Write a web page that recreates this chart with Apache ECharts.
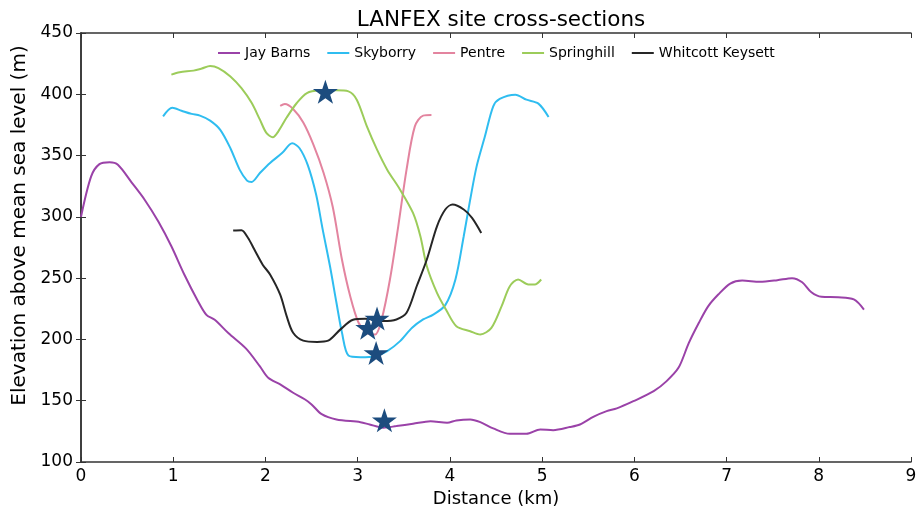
<!DOCTYPE html>
<html>
<head>
<meta charset="utf-8">
<script src="https://cdn.jsdelivr.net/npm/echarts@6/dist/echarts.min.js"></script>
<style>html,body{margin:0;padding:0;background:#fff}#c{width:923px;height:513px}</style>
</head>
<body>
<div id="c"></div>
<script>
var seriesNames = ["Jay Barns", "Skyborry", "Pentre", "Springhill", "Whitcott Keysett"];
var xTicks = [0,1,2,3,4,5,6,7,8,9];
var yTicks = [100,150,200,250,300,350,400,450];

var jayX = [0, 0.11, 0.20, 0.31, 0.40, 0.55, 0.69, 0.84, 0.98, 1.12, 1.27, 1.36, 1.45, 1.60, 1.79, 1.94, 2.03, 2.16, 2.30, 2.43, 2.50, 2.61, 2.77, 3.03, 3.13, 3.28, 3.42, 3.60, 3.79, 3.97, 4.07, 4.22, 4.33, 4.47, 4.65, 4.83, 4.98, 5.12, 5.30, 5.41, 5.56, 5.70, 5.81, 5.99, 6.21, 6.35, 6.48, 6.59, 6.70, 6.80, 6.91, 7.04, 7.17, 7.36, 7.55, 7.71, 7.82, 7.92, 8.03, 8.21, 8.38, 8.49];
var jayY = [300, 333, 343, 344.5, 342.5, 328, 314, 296, 276, 253, 231, 220, 216, 205, 192.5, 178, 168.7, 163.3, 156.5, 151, 147, 139, 134.7, 132.5, 130.6, 128, 129.3, 131.2, 133.3, 132, 133.9, 134.7, 132.5, 127.4, 123, 123, 126.6, 126, 128.5, 130.6, 137, 141.5, 143.7, 149.6, 157.8, 166, 177, 197, 213.6, 227, 236.6, 245.6, 248, 247, 248.3, 250, 246.7, 238.5, 234.8, 234.4, 232.6, 224.4];

var skyX = [0.89, 0.99, 1.09, 1.20, 1.29, 1.40, 1.51, 1.62, 1.72, 1.80, 1.85, 1.94, 2.05, 2.18, 2.29, 2.37, 2.46, 2.55, 2.62, 2.70, 2.77, 2.83, 2.90, 3.03, 3.19, 3.32, 3.46, 3.59, 3.71, 3.82, 3.95, 4.06, 4.15, 4.22, 4.29, 4.38, 4.47, 4.54, 4.71, 4.83, 4.96, 5.07];
var skyY = [382, 389, 386.6, 384, 382.6, 378.5, 371, 356, 338.5, 329.6, 328.5, 335.8, 344, 352, 360, 356, 342, 318, 290, 259.7, 229.9, 205.4, 186.9, 185.5, 186.3, 190.4, 198.6, 209.5, 216.3, 220.3, 228, 248.9, 284.2, 314, 341.2, 365.7, 390.2, 396.2, 399.7, 395.6, 392.4, 381.5];

var penX = [2.16, 2.21, 2.30, 2.41, 2.52, 2.63, 2.73, 2.83, 2.92, 3.01, 3.10, 3.19, 3.26, 3.35, 3.44, 3.53, 3.62, 3.71, 3.80];
var penY = [390.5, 392, 388, 377, 359, 336, 308, 265, 235, 213.6, 205.4, 204, 216.3, 248.9, 292.3, 338.5, 373.8, 382.6, 383];

var sprX = [0.98, 1.07, 1.22, 1.31, 1.40, 1.49, 1.62, 1.74, 1.85, 1.94, 2.01, 2.08, 2.14, 2.23, 2.34, 2.45, 2.59, 2.77, 2.90, 2.99, 3.10, 3.21, 3.32, 3.46, 3.60, 3.68, 3.75, 3.86, 3.96, 4.07, 4.22, 4.33, 4.45, 4.56, 4.65, 4.74, 4.85, 4.92, 4.99];
var sprY = [416, 418, 419.3, 421, 423, 421.4, 414.6, 405, 393, 379.3, 368.5, 365, 369.8, 381, 392.9, 401, 403, 403.2, 402.4, 395.6, 373.8, 354.8, 338.5, 322.2, 303.2, 284.2, 259.7, 238, 224, 210.8, 206.7, 204, 209.5, 227, 243.4, 248.9, 244.8, 244.8, 248.9];

var whiX = [1.65, 1.74, 1.81, 1.88, 1.97, 2.05, 2.16, 2.23, 2.30, 2.41, 2.56, 2.68, 2.81, 2.95, 3.08, 3.28, 3.42, 3.53, 3.64, 3.75, 3.86, 3.95, 4.03, 4.15, 4.24, 4.34];
var whiY = [288.8, 289, 282.9, 273.3, 261, 253, 236.5, 219, 205.4, 199, 198, 199, 208, 216, 216.8, 215, 216.3, 221.7, 243.4, 265.2, 292.3, 306, 310, 306, 299.2, 286.9];

var starX = [2.65, 3.11, 3.21, 3.20, 3.29];
var starY = [402, 209.5, 217, 189, 134];

var colors = ["#9a42a8", "#2fbdf0", "#e3849f", "#9ccc5a", "#262626"];

function zip(xs, ys) { return xs.map(function (x, i) { return [x, ys[i]]; }); }

var lineData = [zip(jayX, jayY), zip(skyX, skyY), zip(penX, penY), zip(sprX, sprY), zip(whiX, whiY)];
var starPath = 'path://M50,0 L61.8,35.1 L98.1,35.1 L68.5,56.7 L79.4,91 L50,70 L20.6,91 L31.5,56.7 L1.9,35.1 L38.2,35.1 Z';

var font = 'DejaVu Sans';
var series = seriesNames.map(function (n, i) {
  return {
    name: n, type: 'line', data: lineData[i], showSymbol: false, symbol: 'none',
    smooth: 0.3, lineStyle: { color: colors[i], width: 2 }, itemStyle: { color: colors[i] },
    z: 2
  };
});
series.push({
  name: 'stars', type: 'scatter', data: zip(starX, starY), symbol: starPath,
  symbolSize: [25, 24], itemStyle: { color: '#1c4c7e', opacity: 1 }, z: 5
});

var baseX = { type: 'value', min: xTicks[0], max: xTicks[xTicks.length - 1], interval: 1, splitLine: { show: false } };
var baseY = { type: 'value', min: yTicks[0], max: yTicks[yTicks.length - 1], interval: 50, splitLine: { show: false } };

var chart = echarts.init(document.getElementById('c'), null, { renderer: 'canvas' });
chart.setOption({
  animation: false,
  textStyle: { fontFamily: font },
  title: { text: 'LANFEX site cross-sections', left: 496, textAlign: 'center', top: 4,
    textStyle: { fontFamily: font, fontSize: 21.5, fontWeight: 'normal', color: '#000' } },
  legend: {
    data: seriesNames.map(function (n, i) { return { name: n, icon: 'rect', itemStyle: { color: colors[i] } }; }),
    top: 41, left: 213, itemWidth: 22, itemHeight: 2, itemGap: 17,
    textStyle: { fontFamily: font, fontSize: 14, color: '#000' }
  },
  grid: { left: 81, right: 12, top: 33, bottom: 51, containLabel: false },
  xAxis: [
    Object.assign({}, baseX, {
      position: 'bottom', name: 'Distance (km)', nameLocation: 'middle', nameGap: 28,
      nameTextStyle: { fontFamily: font, fontSize: 18, color: '#000' },
      axisLine: { show: true, lineStyle: { color: '#333', width: 1.5 } },
      axisTick: { show: true, inside: true, length: 5, lineStyle: { color: '#333' } },
      axisLabel: { fontFamily: font, fontSize: 17, color: '#000', margin: 6 }
    }),
    Object.assign({}, baseX, {
      position: 'top',
      axisLine: { show: true, lineStyle: { color: '#333', width: 1.5 } },
      axisTick: { show: true, inside: true, length: 5, lineStyle: { color: '#333' } },
      axisLabel: { show: false }
    })
  ],
  yAxis: [
    Object.assign({}, baseY, {
      position: 'left', name: 'Elevation above mean sea level (m)', nameLocation: 'middle', nameGap: 50,
      nameTextStyle: { fontFamily: font, fontSize: 20, color: '#000', padding: [0, 0, 0, 44] },
      axisLine: { show: true, lineStyle: { color: '#333', width: 1.5 } },
      axisTick: { show: true, inside: true, length: 5, lineStyle: { color: '#333' } },
      axisLabel: { fontFamily: font, fontSize: 17, color: '#000', margin: 8 }
    }),
    Object.assign({}, baseY, {
      position: 'right',
      axisLine: { show: true, lineStyle: { color: '#333', width: 1.5 } },
      axisTick: { show: true, inside: true, length: 5, lineStyle: { color: '#333' } },
      axisLabel: { show: false }
    })
  ],
  series: series
});
</script>
</body>
</html>
